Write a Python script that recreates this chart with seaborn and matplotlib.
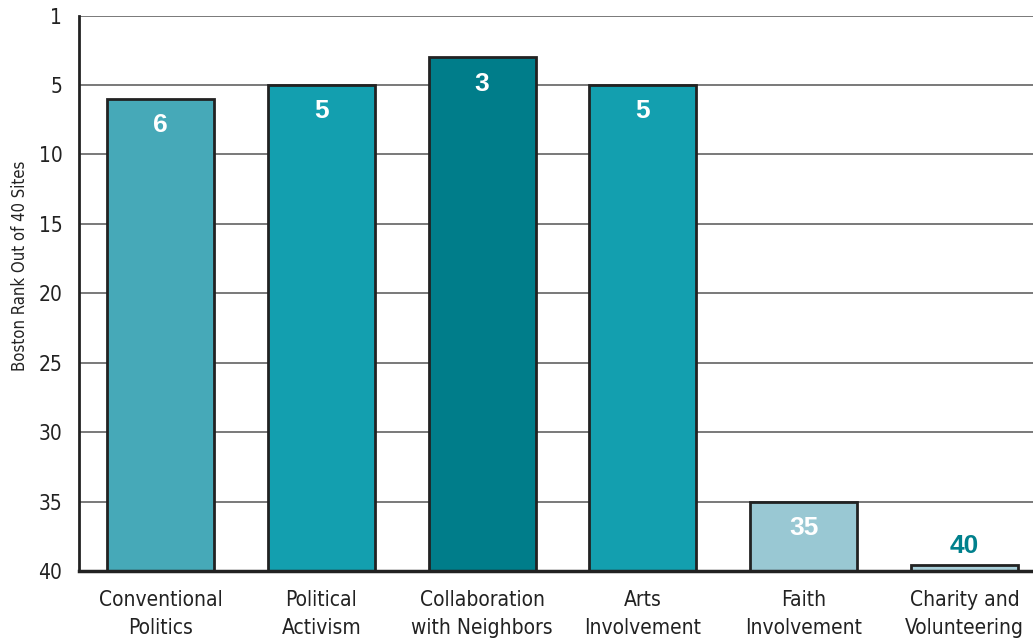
import matplotlib
matplotlib.use("Agg")
import matplotlib.pyplot as plt
from matplotlib.font_manager import FontProperties
import seaborn as sns
import pandas as pd

categories = ["Conventional\nPolitics", "Political\nActivism", "Collaboration\nwith Neighbors",
              "Arts\nInvolvement", "Faith\nInvolvement", "Charity and\nVolunteering"]
ranks = [6, 5, 3, 5, 35, 40]
bar_colors = ["#46A9B8", "#139FAF", "#007D8A", "#139FAF", "#99C8D3", "#A9D0DA"]
label_colors = ["white", "white", "white", "white", "white", "#00808C"]
tick_positions = [0, 5, 10, 15, 20, 25, 30, 35, 40]
tick_labels = ["1", "5", "10", "15", "20", "25", "30", "35", "40"]

BASE = 40
MIN_VISIBLE = 0.4
display_top = [min(r, BASE - MIN_VISIBLE) for r in ranks]
df = pd.DataFrame({"cat": categories, "h": [t - BASE for t in display_top]})

sns.set_theme(style="white")
plt.rcParams["font.family"] = ["DejaVu Sans"]
plt.rcParams["font.stretch"] = "condensed"

fig = plt.figure(figsize=(10.33, 6.41), dpi=100)
ax = fig.add_axes([0.0765, 0.1092, 0.9235, 0.8665])

sns.barplot(data=df, x="cat", y="h", hue="cat", palette=bar_colors, legend=False,
            saturation=1, width=0.665, bottom=BASE, edgecolor="#222222", linewidth=2,
            ax=ax, zorder=3)

for y in tick_positions:
    ax.axhline(y, color="#555555", lw=1.1, zorder=1)

ax.set_ylim(BASE, 0)
ax.set_xlim(-0.506, 5.425)
ax.set_yticks(tick_positions)
ax.set_yticklabels(tick_labels, fontsize=15, color="#222222", fontstretch="condensed")
ax.set_xticks(range(len(categories)))
ax.set_xticklabels(categories, fontsize=15, color="#222222", linespacing=1.5,
                   fontstretch="condensed")
ax.tick_params(axis="x", length=0, pad=14)
ax.tick_params(axis="y", length=0, pad=12)
ax.set_xlabel("")
ax.set_ylabel("Boston Rank Out of 40 Sites", fontsize=12, color="#222222",
              fontstretch="condensed", va="center")
ax.yaxis.set_label_coords(-0.062, 0.549)

for s in ["top", "right"]:
    ax.spines[s].set_visible(False)
ax.spines["left"].set_color("#222222")
ax.spines["left"].set_linewidth(2)
ax.spines["bottom"].set_color("#222222")
ax.spines["bottom"].set_linewidth(2.5)
ax.spines["bottom"].set_zorder(5)

value_font = FontProperties(family="Liberation Sans", weight="bold", stretch="normal", size=19)
for i, (r, t) in enumerate(zip(ranks, display_top)):
    if label_colors[i] == "white":
        ypos = t + 1.9
    else:
        ypos = t - 1.4
    ax.text(i, ypos, str(r), ha="center", va="center", fontproperties=value_font,
            color=label_colors[i], zorder=6)

fig.savefig("out.png", dpi=100)
